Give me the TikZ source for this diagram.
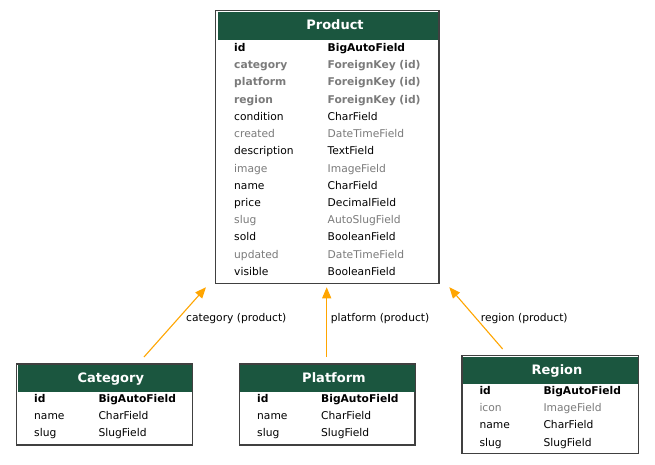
\documentclass[tikz,border=0pt]{standalone}
\usepackage{fontspec}
\setmainfont{DejaVu Sans}
\usetikzlibrary{arrows.meta, calc, positioning}
\definecolor{headgreen}{HTML}{1B563F}
\definecolor{nullgray}{HTML}{7B7B7B}
\definecolor{relorange}{HTML}{FFA500}

\begin{document}
\begin{tikzpicture}[x=1pt, y=-1pt,
	modelbox/.style = {draw=black!75, line width=1.4pt, fill=white, inner sep=0pt},
	headbar/.style = {fill=headgreen, inner sep=0pt},
	modeltitle/.style = {text=white, font=\fontsize{13}{15}\selectfont\bfseries, anchor=base, inner sep=0pt},
	field/.style = {font=\fontsize{10.7}{12}\selectfont, anchor=base west, inner sep=0pt},
	pkfield/.style = {field, font=\fontsize{10.7}{12}\selectfont\bfseries},
	fkfield/.style = {pkfield, text=nullgray},
	reqfield/.style = {field},
	optfield/.style = {field, text=nullgray},
	rel/.style = {draw=relorange, line width=1.1pt, -{Triangle[length=11pt, width=9pt]}},
	rellabel/.style = {font=\fontsize{10.7}{12}\selectfont, anchor=base west, inner sep=0pt}]
		\useasboundingbox (0,0) rectangle (655,465);
		% models
		\node[modelbox, minimum width=223.25pt, minimum height=272.5pt] (product) at (327.4,147) {};
		\node[modelbox, minimum width=175.85pt, minimum height=81pt] (category) at (104.7,404.5) {};
		\node[modelbox, minimum width=175.6pt, minimum height=81pt] (platform) at (327.2,404.5) {};
		\node[modelbox, minimum width=176.3pt, minimum height=97.6pt] (region) at (550.15,404.5) {};
		% headers
		\node[headbar, minimum width=220pt, minimum height=27.5pt] (producthead) at (327.5,26.25) {};
		\node[headbar, minimum width=174.5pt, minimum height=27pt] (categoryhead) at (104.75,378.5) {};
		\node[headbar, minimum width=174.5pt, minimum height=27pt] (platformhead) at (327.25,378.5) {};
		\node[headbar, minimum width=174.5pt, minimum height=27pt] (regionhead) at (550.25,370.8) {};
		\node[modeltitle] (producttitle) at (335,29.6) {Product};
		\node[modeltitle] (categorytitle) at (110.8,382) {Category};
		\node[modeltitle] (platformtitle) at (334,382) {Platform};
		\node[modeltitle] (regiontitle) at (557,374.1) {Region};
		% fields
		\foreach \f/\t/\s [count=\i from 0] in {id/BigAutoField/pkfield, category/ForeignKey (id)/fkfield,
			platform/ForeignKey (id)/fkfield, region/ForeignKey (id)/fkfield, condition/CharField/reqfield,
			created/DateTimeField/optfield, description/TextField/reqfield, image/ImageField/optfield,
			name/CharField/reqfield, price/DecimalField/reqfield, slug/AutoSlugField/optfield,
			sold/BooleanField/reqfield, updated/DateTimeField/optfield, visible/BooleanField/reqfield} {
			\node[\s] (product-f\i) at (234,{51.6+17.2*\i}) {\f};
			\node[\s] (product-t\i) at (327.5,{51.6+17.2*\i}) {\t};
		}
		\foreach \f/\t/\s [count=\i from 0] in {id/BigAutoField/pkfield, name/CharField/reqfield, slug/SlugField/reqfield} {
			\node[\s] (category-f\i) at (34,{402.5+17.2*\i}) {\f};
			\node[\s] (category-t\i) at (98.3,{402.5+17.2*\i}) {\t};
			\node[\s] (platform-f\i) at (257,{402.5+17.2*\i}) {\f};
			\node[\s] (platform-t\i) at (321,{402.5+17.2*\i}) {\t};
		}
		\foreach \f/\t/\s [count=\i from 0] in {id/BigAutoField/pkfield, icon/ImageField/optfield,
			name/CharField/reqfield, slug/SlugField/reqfield} {
			\node[\s] (region-f\i) at (479.3,{394.5+17.2*\i}) {\f};
			\node[\s] (region-t\i) at (543.3,{394.5+17.2*\i}) {\t};
		}
		% relations
		\draw[rel] ([xshift=39.3pt, yshift=6.3pt]category.north) -- ([xshift=-121.4pt, yshift=-3.3pt]product.south);
		\draw[rel] ([xshift=-0.5pt, yshift=6.3pt]platform.north) -- ([xshift=-0.7pt, yshift=-3.3pt]product.south);
		\draw[rel] ([xshift=-47.5pt, yshift=6pt]region.north) -- ([xshift=121.9pt, yshift=-3.3pt]product.south);
		\node[rellabel] (categoryrel) at (186,321.7) {category (product)};
		\node[rellabel] (platformrel) at (330.7,321.7) {platform (product)};
		\node[rellabel] (regionrel) at (480.7,321.7) {region (product)};
	\end{tikzpicture}
\end{document}
